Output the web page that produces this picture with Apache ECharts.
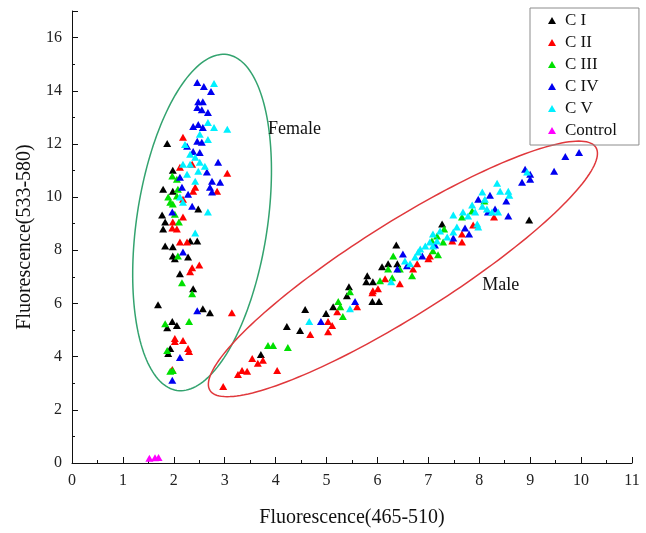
<!DOCTYPE html>
<html><head><meta charset="utf-8">
<script src="https://cdn.jsdelivr.net/npm/echarts@6/dist/echarts.min.js"></script>
<style>html,body{margin:0;padding:0;background:#fff}#c{width:646px;height:533px}</style>
</head><body><div id="c"></div>
<script>
// ---- data (x = Fluorescence 465-510, y = Fluorescence 533-580) ----
const seriesNames = ['C I', 'C II', 'C III', 'C IV', 'C V', 'Control'];

const cI = [
 [1.87,12.02],[1.98,11.01],[1.79,10.30],[1.98,10.22],[2.48,9.55],[1.77,9.33],[1.83,9.06],[1.79,8.80],
 [2.32,8.35],[2.46,8.35],[1.83,8.16],[1.98,8.13],[1.98,7.79],[2.02,7.68],[2.28,7.75],[2.12,7.12],
 [2.38,6.55],[1.69,5.95],[2.57,5.80],[2.71,5.65],[1.97,5.32],[2.06,5.17],[1.87,5.09],[1.89,4.12],[1.93,4.31],
 [3.71,4.08],[4.22,5.13],[4.48,4.98],[4.58,5.77],[4.99,5.62],[5.13,5.88],[5.40,6.29],[5.44,6.63],
 [5.80,7.04],[5.78,6.82],[5.91,6.82],[5.90,6.07],[6.03,6.07],[6.09,7.38],[6.21,7.49],[6.37,8.20],
 [6.39,7.49],[7.27,8.99],[8.98,9.14]
];
const cII = [
 [2.18,12.25],[3.05,10.90],[2.36,11.24],[2.12,11.12],[2.42,10.37],[2.85,10.22],[2.18,9.25],[1.98,9.06],
 [1.97,8.84],[2.06,8.80],[2.12,8.31],[2.26,8.31],[2.36,7.34],[2.32,7.19],[2.50,7.45],[3.14,5.65],
 [2.38,10.22],[2.18,9.92],[2.02,4.68],[2.02,4.57],[2.18,4.61],[2.28,4.31],[2.30,4.19],[1.97,3.52],
 [2.97,2.88],[3.26,3.33],[3.34,3.48],[3.44,3.45],[3.54,3.93],[3.65,3.75],[3.75,3.86],[4.03,3.48],
 [4.68,4.83],[5.03,4.94],[5.11,5.17],[5.03,5.32],[5.21,5.69],[5.60,5.88],[5.91,6.48],[6.01,6.55],
 [5.90,6.40],[6.44,6.74],[6.15,6.93],[6.70,7.30],[6.78,7.49],[7.00,7.68],[7.03,7.79],[8.29,9.25],
 [7.88,8.95],[7.66,8.61],[7.66,8.31],[7.47,8.35]
];
const cIII = [
 [1.97,10.79],[2.06,10.67],[2.08,10.30],[1.89,10.00],[2.06,10.04],[2.02,9.36],[2.10,9.06],[2.08,7.79],
 [2.16,6.78],[2.36,6.37],[1.98,9.74],[1.93,9.81],[1.83,5.24],[2.30,5.32],[1.87,4.23],[1.93,3.45],[1.98,3.48],
 [3.85,4.42],[3.95,4.42],[4.24,4.34],[5.32,5.51],[5.23,6.07],[5.27,5.88],[5.46,6.44],[6.05,6.85],
 [6.31,7.79],[6.29,6.97],[6.21,7.30],[6.68,7.04],[6.44,7.30],[8.10,9.85],[7.66,9.25],[7.86,9.48],
 [7.31,8.80],[7.17,8.54],[7.29,8.31],[7.07,8.35],[7.19,7.83],[7.09,7.98]
];
const cIV = [
 [2.46,14.31],[2.59,14.16],[2.73,13.97],[2.48,13.59],[2.57,13.59],[2.46,13.37],[2.55,13.29],[2.67,13.18],
 [2.38,12.66],[2.48,12.73],[2.57,12.62],[2.46,12.10],[2.55,12.06],[2.26,11.91],[2.38,11.72],[2.51,11.68],
 [2.87,11.31],[2.65,10.94],[2.12,10.75],[2.75,10.60],[2.91,10.56],[2.71,10.37],[2.16,10.37],[2.75,10.19],
 [2.28,10.11],[2.36,9.66],[1.97,9.44],[2.18,7.94],[2.46,5.73],[2.12,3.97],[1.97,3.11],
 [4.89,5.32],[5.56,6.07],[6.39,7.30],[6.50,7.86],[6.58,7.42],[6.88,7.79],[9.96,11.68],[9.69,11.53],
 [9.47,10.97],[8.90,11.05],[9.00,10.86],[9.00,10.67],[8.84,10.56],[8.21,10.07],[7.98,9.92],[8.53,9.85],
 [8.31,9.55],[8.17,9.44],[8.57,9.29],[7.72,8.84],[7.80,8.61],[7.49,8.46],[7.13,8.20]
];
const cV = [
 [2.79,14.27],[2.67,12.81],[2.79,12.62],[3.05,12.55],[2.51,12.36],[2.67,12.17],[2.22,11.98],[2.32,11.61],
 [2.42,11.50],[2.51,11.31],[2.32,11.24],[2.61,11.16],[2.48,10.97],[2.18,11.24],[2.67,9.44],[2.42,8.65],
 [2.12,10.00],[2.18,9.81],[2.26,10.86],[2.42,10.60],
 [4.66,5.32],[5.46,5.80],[6.64,7.49],[6.80,7.94],[7.09,8.16],[6.84,8.05],[6.94,8.16],[6.74,7.75],
 [6.54,7.60],[6.27,6.82],[8.35,10.52],[8.41,10.22],[8.57,10.22],[8.59,10.07],[8.06,10.19],[8.11,9.92],
 [7.86,9.70],[8.06,9.66],[8.15,9.55],[7.68,9.44],[7.49,9.33],[7.78,9.29],[7.92,9.44],[8.25,9.44],
 [8.37,9.44],[7.96,8.99],[7.98,8.88],[7.23,8.73],[7.56,8.88],[7.09,8.61],[7.49,8.69],[7.37,8.50],
 [7.03,8.31],[7.17,8.35],[8.94,10.94]
];
const control = [[1.52,0.18],[1.63,0.20],[1.70,0.21]];

const xTicks = { min: 0, max: 11, interval: 1 };
const yTicks = { min: 0, max: 17, interval: 2 };

// annotation ellipses: major-axis end points (data units) and minor/major ratio
const ellipses = [
  { p1: [3.05, 15.36], p2: [2.06, 2.73], ratio: 0.385, color: '#33a36f' },
  { p1: [2.71, 2.73], p2: [10.29, 11.87], ratio: 0.205, color: '#e0383c' }
];
const groupLabels = [
  { text: 'Female', pos: [3.85, 12.55] },
  { text: 'Male', pos: [8.06, 6.70] }
];
// ---------------------------------------------------------------

const colors = ['#000000', '#ff0000', '#00e000', '#0000f0', '#00f0ff', '#ff00ff'];
const FONT = '"Liberation Serif","Times New Roman",serif';
const chart = echarts.init(document.getElementById('c'), null, { renderer: 'canvas' });

const scatterSets = [cI, cII, cIII, cIV, cV, control];
const series = scatterSets.map((d, i) => ({
  name: seriesNames[i], type: 'scatter', data: d,
  symbol: 'triangle', symbolSize: [8, 7],
  itemStyle: { color: colors[i], opacity: 1 }, z: 3 + i
}));

series.push({
  type: 'custom', silent: true, z: 2, clip: false,
  data: ellipses.map(e => [e.p1[0], e.p1[1], e.p2[0], e.p2[1], e.ratio]),
  encode: { x: [0, 2], y: [1, 3] },
  renderItem: function (params, api) {
    const e = ellipses[params.dataIndex];
    const a1 = api.coord(e.p1), a2 = api.coord(e.p2);
    const cx = (a1[0] + a2[0]) / 2, cy = (a1[1] + a2[1]) / 2;
    const dx = a2[0] - a1[0], dy = a2[1] - a1[1];
    const a = Math.sqrt(dx * dx + dy * dy) / 2, b = a * e.ratio;
    const th = Math.atan2(dy, dx);
    const pts = [];
    for (let k = 0; k < 180; k++) {
      const t = k / 180 * Math.PI * 2;
      const ex = a * Math.cos(t), ey = b * Math.sin(t);
      pts.push([cx + ex * Math.cos(th) - ey * Math.sin(th), cy + ex * Math.sin(th) + ey * Math.cos(th)]);
    }
    return { type: 'polygon', shape: { points: pts }, style: { fill: 'none', stroke: e.color, lineWidth: 1.5 } };
  }
});

series.push({
  type: 'custom', silent: true, z: 10, clip: false,
  data: groupLabels.map(g => g.pos),
  renderItem: function (params, api) {
    const p = api.coord([api.value(0), api.value(1)]);
    return { type: 'text', x: p[0], y: p[1],
      style: { text: groupLabels[params.dataIndex].text, font: '18px ' + FONT, fill: '#111',
               align: 'left', verticalAlign: 'middle' } };
  }
});

chart.setOption({
  animation: false,
  backgroundColor: '#fff',
  color: colors,
  grid: { left: 72, right: 14, top: 11, bottom: 68, containLabel: false },
  legend: {
    data: seriesNames.map(n => ({ name: n, icon: 'triangle' })),
    orient: 'vertical', left: 530, top: 8,
    itemWidth: 8, itemHeight: 7, itemGap: 5,
    padding: [4, 22, 6, 18],
    borderColor: '#8c8c8c', borderWidth: 1,
    textStyle: { fontFamily: FONT, fontSize: 17, color: '#111', lineHeight: 17, padding: [0, 0, 0, 4] }
  },
  xAxis: {
    type: 'value', min: xTicks.min, max: xTicks.max, interval: xTicks.interval,
    name: 'Fluorescence(465-510)', nameLocation: 'middle', nameGap: 45,
    nameTextStyle: { fontFamily: FONT, fontSize: 20, color: '#111' },
    axisLine: { show: true, onZero: false, lineStyle: { color: '#111', width: 1 } },
    axisTick: { show: true, inside: true, length: 6, lineStyle: { color: '#111' } },
    minorTick: { show: true, splitNumber: 2, length: 3, lineStyle: { color: '#111' } },
    axisLabel: { fontFamily: FONT, fontSize: 16, color: '#222', margin: 10 },
    splitLine: { show: false }
  },
  yAxis: {
    type: 'value', min: yTicks.min, max: yTicks.max, interval: yTicks.interval,
    name: 'Fluorescence(533-580)', nameLocation: 'middle', nameGap: 30,
    nameTextStyle: { fontFamily: FONT, fontSize: 20, color: '#111' },
    axisLine: { show: true, onZero: false, lineStyle: { color: '#111', width: 1 } },
    axisTick: { show: true, inside: true, length: 6, lineStyle: { color: '#111' } },
    minorTick: { show: true, splitNumber: 2, length: 3, lineStyle: { color: '#111' } },
    axisLabel: { fontFamily: FONT, fontSize: 16, color: '#222', margin: 10, showMaxLabel: false },
    splitLine: { show: false }
  },
  series: series
});
</script></body></html>
